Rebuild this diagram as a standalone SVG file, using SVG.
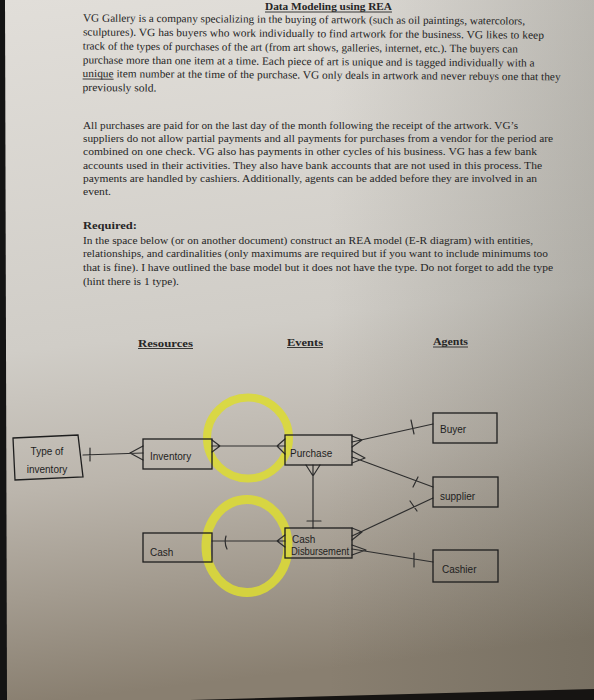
<svg xmlns="http://www.w3.org/2000/svg" width="594" height="700" viewBox="0 0 594 700">
<defs>
  <linearGradient id="bg" x1="0" y1="0" x2="0.1" y2="1">
    <stop offset="0" stop-color="#e1ded9"/>
    <stop offset="0.5" stop-color="#d0cdc7"/>
    <stop offset="0.7" stop-color="#bbb5ac"/>
    <stop offset="0.85" stop-color="#a39b8f"/>
    <stop offset="1" stop-color="#897f70"/>
  </linearGradient>
  <linearGradient id="side" x1="0" y1="0" x2="1" y2="0">
    <stop offset="0.55" stop-color="#3c3c32" stop-opacity="0"/>
    <stop offset="1" stop-color="#3c3c32" stop-opacity="0.22"/>
  </linearGradient>
  <style>
    .doc { font-family: "Liberation Serif", "Times New Roman", serif; font-size: 11px; fill: #262626; }
    .b { font-weight: bold; }
    .ul { stroke: #262626; stroke-width: 0.9; }
    .hl { fill: none; stroke: #dcdb34; stroke-opacity: 0.88; }
    .box { fill: none; stroke: #1e1e1e; stroke-width: 1.3; }
    .hw { font-family: "Liberation Sans", Arial, sans-serif; font-size: 10px; fill: #1e1e1e; }
    .ln { fill: none; stroke: #2e2e2e; stroke-width: 1.2; stroke-linecap: round; }
  </style>
</defs>

<rect x="0" y="0" width="594" height="700" fill="url(#bg)"/>
<rect x="0" y="0" width="594" height="700" fill="url(#side)"/>
<polygon points="0,0 5,0 7,700 0,700" fill="#141414"/>
<polygon points="190,700 594,689 594,700" fill="#161412"/>

<!-- document text -->
<g id="text">
  <text class="doc b" x="265" y="10" font-size="10.5" textLength="127" lengthAdjust="spacingAndGlyphs">Data Modeling using REA</text>
  <line class="ul" x1="265" y1="12" x2="392" y2="12"/>
  <g transform="rotate(0.4 83 20)">
    <text class="doc" x="83" y="21.5" textLength="442" lengthAdjust="spacingAndGlyphs">VG Gallery is a company specializing in the buying of artwork (such as oil paintings, watercolors,</text>
    <text class="doc" x="83" y="35.5" textLength="461" lengthAdjust="spacingAndGlyphs">sculptures).  VG has buyers who work individually to find artwork for the business.  VG likes to keep</text>
    <text class="doc" x="83" y="49.5" textLength="435" lengthAdjust="spacingAndGlyphs">track of the types of purchases of the art (from art shows, galleries, internet, etc.).  The buyers can</text>
    <text class="doc" x="83" y="63.5" textLength="452" lengthAdjust="spacingAndGlyphs">purchase more than one item at a time.  Each piece of art is unique and is tagged individually with a</text>
    <text class="doc" x="83" y="77" textLength="478" lengthAdjust="spacingAndGlyphs">unique item number at the time of the purchase.  VG only deals in artwork and never rebuys one that they</text>
    <line class="ul" x1="83" y1="79" x2="114" y2="79"/>
    <text class="doc" x="83" y="91" textLength="74" lengthAdjust="spacingAndGlyphs">previously sold.</text>
  </g>
  <text class="doc" x="83" y="128.5" textLength="435" lengthAdjust="spacingAndGlyphs">All purchases are paid for on the last day of the month following the receipt of the artwork.  VG’s</text>
  <text class="doc" x="83" y="142" textLength="470" lengthAdjust="spacingAndGlyphs">suppliers do not allow partial payments and all payments for purchases from a vendor for the period are</text>
  <text class="doc" x="83" y="155" textLength="454" lengthAdjust="spacingAndGlyphs">combined on one check.  VG also has payments in other cycles of his business.  VG has a few bank</text>
  <text class="doc" x="83" y="168.5" textLength="459" lengthAdjust="spacingAndGlyphs">accounts used in their activities.  They also have bank accounts that are not used in this process.  The</text>
  <text class="doc" x="83" y="181.5" textLength="454" lengthAdjust="spacingAndGlyphs">payments are handled by cashiers.  Additionally, agents can be added before they are involved in an</text>
  <text class="doc" x="83" y="195" textLength="28" lengthAdjust="spacingAndGlyphs">event.</text>

  <text class="doc b" x="83" y="229" textLength="54" lengthAdjust="spacingAndGlyphs">Required:</text>
  <text class="doc" x="83" y="243.5" textLength="450" lengthAdjust="spacingAndGlyphs">In the space below (or on another document) construct an REA model (E-R diagram) with entities,</text>
  <text class="doc" x="83" y="257" textLength="465" lengthAdjust="spacingAndGlyphs">relationships, and cardinalities (only maximums are required but if you want to include minimums too</text>
  <text class="doc" x="83" y="270.5" textLength="470" lengthAdjust="spacingAndGlyphs">that is fine).  I have outlined the base model but it does not have the type. Do not forget to add the type</text>
  <text class="doc" x="83" y="284.5" textLength="96" lengthAdjust="spacingAndGlyphs">(hint there is 1 type).</text>

  <text class="doc b" x="138" y="346.5" textLength="55" lengthAdjust="spacingAndGlyphs">Resources</text>
  <line class="ul" x1="138" y1="348.5" x2="193" y2="348.5"/>
  <text class="doc b" x="287" y="345.5" textLength="36" lengthAdjust="spacingAndGlyphs">Events</text>
  <line class="ul" x1="287" y1="347.5" x2="323" y2="347.5"/>
  <text class="doc b" x="433" y="345" textLength="35" lengthAdjust="spacingAndGlyphs">Agents</text>
  <line class="ul" x1="433" y1="347" x2="468" y2="347"/>
</g>

<!-- highlighter circles -->
<g id="highlights">
  <ellipse class="hl" cx="248" cy="438" rx="41" ry="40.5" stroke-width="8"/>
  <ellipse class="hl" cx="247" cy="546" rx="41" ry="46.5" stroke-width="9"/>
</g>

<!-- connectors -->
<g id="connectors">
  <path class="ln" d="M83,455 L143,453 M130,453 L143,446 M130,453 L143,460 M90,448 L90,461"/>
  <path class="ln" d="M212,446 L285,446 M220,446 L212,440 M220,446 L212,452 M277,446 L285,439 M277,446 L285,454"/>
  <path class="ln" d="M352,442 L433,424 M362,440 L352,436 M362,440 L352,447 M411,420 L414,434"/>
  <path class="ln" d="M352,457 L433,487 M365,458 L352,451 M365,458 L352,463 M413,487 L418,477"/>
  <path class="ln" d="M313,465 L313,528 M313,476 L306,465 M313,476 L320,465 M307,521 L321,521"/>
  <path class="ln" d="M212,541 L285,541 M277,541 L285,535 M277,541 L285,547 M226,536 Q224,543 227,549"/>
  <path class="ln" d="M352,536 L433,498 M362,532 L352,528 M362,532 L352,540 M410,501 L417,511"/>
  <path class="ln" d="M352,549 L433,562 M366,550 L352,545 M366,550 L352,555 M414,553 L414,567"/>
</g>

<!-- nodes -->
<g id="type-of-inventory">
  <polygon class="box" points="13,438 78,435 83,477 15,480"/>
  <text class="hw" x="47" y="455" text-anchor="middle">Type of</text>
  <text class="hw" x="47" y="473" text-anchor="middle">inventory</text>
</g>
<g id="inventory">
  <rect class="box" x="143" y="439" width="69" height="30"/>
  <text class="hw" x="150" y="460">Inventory</text>
</g>
<g id="purchase">
  <rect class="box" x="285" y="435" width="67" height="30"/>
  <text class="hw" x="290" y="457" font-size="10.5">Purchase</text>
</g>
<g id="cash">
  <rect class="box" x="143" y="533" width="69" height="29"/>
  <text class="hw" x="150" y="556">Cash</text>
</g>
<g id="cash-disbursement">
  <rect class="box" x="285" y="528" width="67" height="30"/>
  <text class="hw" x="292" y="543" font-size="9">Cash</text>
  <text class="hw" x="291" y="555" font-size="8" textLength="58" lengthAdjust="spacingAndGlyphs">Disbursement</text>
</g>
<g id="buyer">
  <rect class="box" x="433" y="413" width="64" height="30"/>
  <text class="hw" x="440" y="433">Buyer</text>
</g>
<g id="supplier">
  <rect class="box" x="433" y="477" width="65" height="30"/>
  <text class="hw" x="440" y="500" font-size="9.5">supplier</text>
</g>
<g id="cashier">
  <rect class="box" x="433" y="550" width="65" height="32"/>
  <text class="hw" x="442" y="573">Cashier</text>
</g>
</svg>
